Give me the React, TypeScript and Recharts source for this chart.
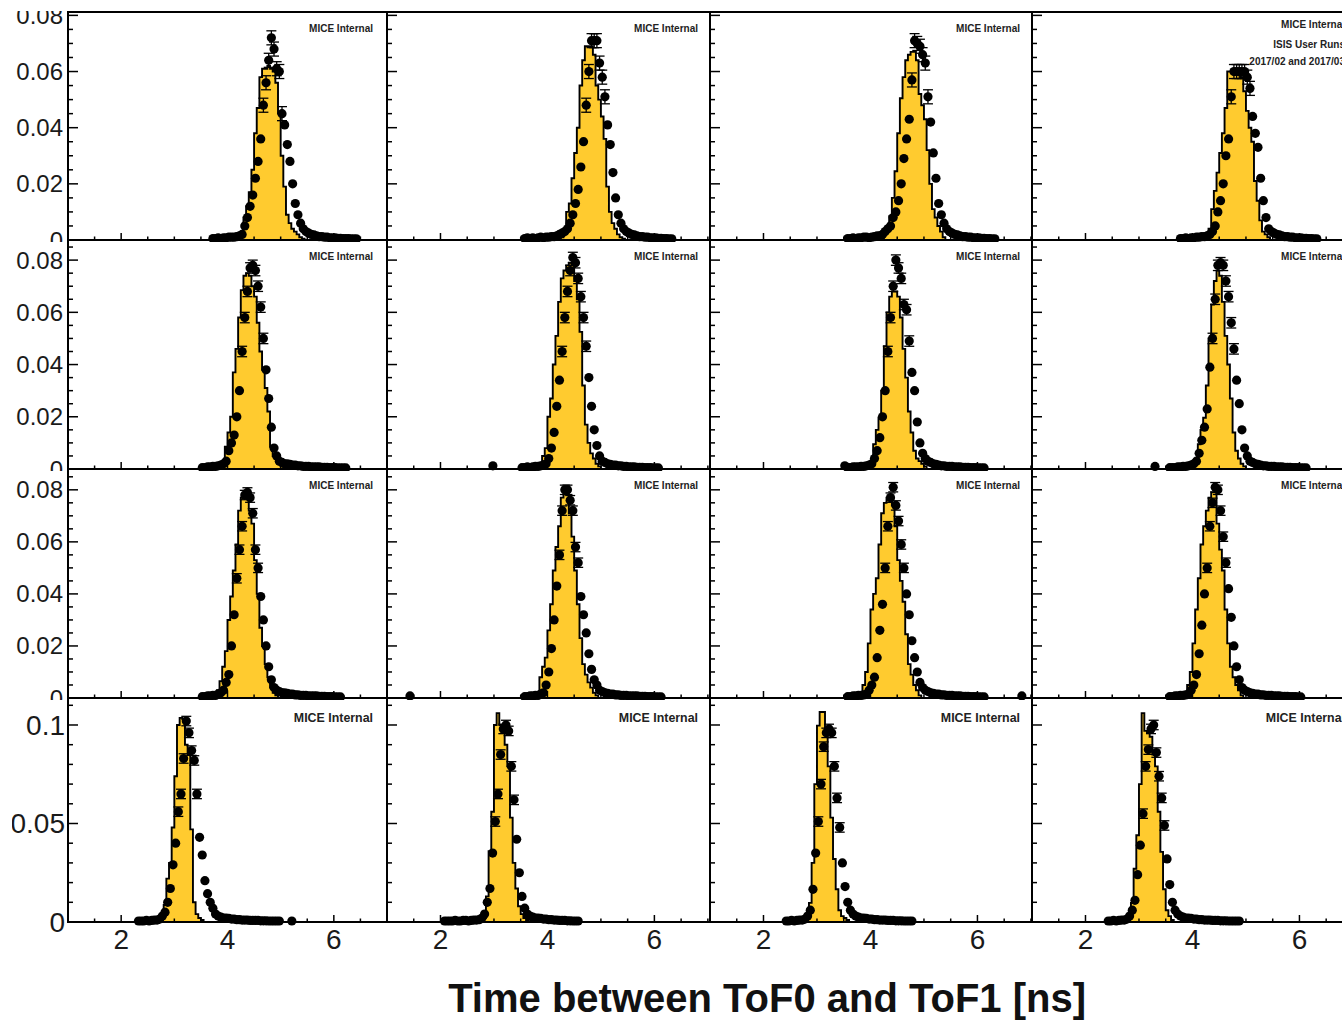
import React from 'react';
import { ComposedChart, Area, Scatter, XAxis, YAxis, ReferenceArea, ErrorBar } from 'recharts';

const FONT = "'Liberation Sans', Arial, Helvetica, sans-serif";
const BIN = 0.05;

// ---------------- Row 1 ----------------
const mc_r1c1 = [0.001,0.002,0.008,0.012,0.017,0.025,0.038,0.047,0.058,0.061, 0.061,0.062,0.061,0.060,0.056,0.045,0.030,0.019,0.009,0.006, 0.004,0.003,0.002,0.001,0.0005];
const data_r1c1 = [0.0005,0.0005,0.0008,0.0005,0.0008,0.0008,0.001,0.001,0.001,0.0012, 0.0015,0.002,0.005,0.008,0.012,0.016,0.022,0.028,0.036,0.048, 0.056,0.064,0.072,0.068,0.061,0.060,0.045,0.041,0.034,0.028, 0.020,0.013,0.009,0.006,0.004,0.003,0.0025,0.002,0.0018,0.0015, 0.0012,0.0012,0.001,0.001,0.0008,0.0008,0.0008,0.0006,0.0006,0.0005, 0.0005,0.0005,0.0004,0.0004,0.0004];

const mc_r1c2 = [0.001,0.004,0.010,0.013,0.022,0.031,0.040,0.055,0.064,0.069, 0.069,0.069,0.066,0.055,0.050,0.044,0.036,0.019,0.010,0.006, 0.004,0.002,0.001,0.0005];
const data_r1c2 = [0.0005,0.0008,0.0005,0.0008,0.0005,0.0008,0.001,0.0008,0.001,0.001, 0.0012,0.0012,0.0015,0.002,0.0025,0.003,0.004,0.006,0.009,0.013, 0.018,0.026,0.035,0.048,0.060,0.071,0.071,0.071,0.063,0.058, 0.051,0.041,0.034,0.024,0.015,0.009,0.006,0.004,0.003,0.0025, 0.002,0.0018,0.0015,0.0012,0.0012,0.001,0.001,0.0008,0.0008,0.0008, 0.0006,0.0006,0.0005,0.0005,0.0004,0.0004];

const mc_r1c3 = [0.002,0.005,0.0085,0.015,0.0245,0.038,0.0505,0.058,0.064,0.066, 0.067,0.067,0.064,0.052,0.048,0.043,0.032,0.020,0.011,0.008, 0.005,0.003,0.001];
const data_r1c3 = [0.0005,0.0005,0.0008,0.0005,0.0008,0.0008,0.001,0.001,0.0008,0.001, 0.0012,0.0015,0.0015,0.002,0.003,0.004,0.005,0.008,0.010,0.014, 0.020,0.029,0.036,0.043,0.057,0.071,0.070,0.069,0.066,0.063, 0.051,0.042,0.031,0.022,0.013,0.009,0.006,0.004,0.003,0.0025, 0.002,0.0018,0.0015,0.0012,0.0012,0.001,0.001,0.0008,0.0008,0.0008, 0.0006,0.0006,0.0005,0.0005,0.0004,0.0004];

const mc_r1c4 = [0.001,0.004,0.011,0.0175,0.024,0.031,0.038,0.047,0.060,0.060, 0.060,0.060,0.060,0.058,0.053,0.046,0.040,0.035,0.021,0.014, 0.007,0.003,0.002,0.001];
const data_r1c4 = [0.0005,0.0005,0.0008,0.0005,0.0008,0.0008,0.001,0.001,0.0012,0.0012, 0.0015,0.002,0.003,0.005,0.010,0.014,0.020,0.030,0.036,0.051, 0.060,0.060,0.060,0.060,0.060,0.058,0.054,0.044,0.038,0.033, 0.022,0.014,0.008,0.004,0.003,0.0025,0.002,0.0018,0.0015,0.0012, 0.0012,0.001,0.001,0.0008,0.0008,0.0008,0.0006,0.0006,0.0005,0.0005, 0.0004,0.0004];

// ---------------- Row 2 ----------------
const mc_r2c1 = [0.001,0.002,0.0085,0.014,0.020,0.037,0.046,0.058,0.0685,0.074, 0.075,0.074,0.070,0.066,0.056,0.045,0.038,0.031,0.022,0.0085, 0.005,0.004,0.002,0.001];
const data_r2c1 = [0.0005,0.0005,0.0008,0.0008,0.001,0.001,0.0012,0.0015,0.002,0.003, 0.007,0.010,0.013,0.020,0.030,0.045,0.058,0.068,0.077,0.078, 0.076,0.070,0.062,0.050,0.038,0.027,0.016,0.008,0.005,0.003, 0.0025,0.002,0.002,0.0018,0.0015,0.0015,0.0012,0.0012,0.001,0.001, 0.001,0.0008,0.0008,0.0008,0.0008,0.0006,0.0006,0.0006,0.0005,0.0005, 0.0005,0.0004,0.0004,0.0004,0.0004];

const mc_r2c2 = [0.002,0.005,0.008,0.020,0.027,0.040,0.051,0.064,0.073,0.076, 0.078,0.079,0.078,0.072,0.065,0.0525,0.032,0.017,0.010,0.006, 0.004,0.002,0.001];
const data_r2c2 = [0.0005,0.0005,0.0008,0.0005,0.0008,0.001,0.001,0.0012,0.0015,0.002, 0.004,0.008,0.014,0.024,0.034,0.045,0.058,0.068,0.076,0.081, 0.079,0.073,0.066,0.058,0.047,0.035,0.024,0.015,0.009,0.005, 0.003,0.0025,0.002,0.0018,0.0015,0.0015,0.0012,0.0012,0.001,0.001, 0.0008,0.0008,0.0008,0.0006,0.0006,0.0006,0.0005,0.0005,0.0005,0.0004, 0.0004,0.0004];
const extra_r2c2 = [[2.98, 0.0012]];

const mc_r2c3 = [0.001,0.003,0.0095,0.015,0.0196,0.030,0.047,0.060,0.066,0.068, 0.068,0.066,0.058,0.046,0.035,0.022,0.014,0.007,0.004,0.003, 0.002,0.001];
const data_r2c3 = [0.0005,0.0005,0.0008,0.0008,0.0008,0.001,0.001,0.0012,0.0015,0.002, 0.004,0.007,0.012,0.020,0.030,0.045,0.058,0.070,0.080,0.077, 0.073,0.063,0.061,0.049,0.037,0.030,0.018,0.010,0.006,0.004, 0.003,0.0025,0.002,0.0018,0.0015,0.0012,0.0012,0.001,0.001,0.001, 0.0008,0.0008,0.0008,0.0006,0.0006,0.0006,0.0005,0.0005,0.0005,0.0004, 0.0004,0.0004];
const extra_r2c3 = [[3.52, 0.0012]];

const mc_r2c4 = [0.001,0.003,0.0095,0.015,0.0196,0.032,0.050,0.063,0.072,0.076, 0.074,0.064,0.051,0.040,0.027,0.014,0.007,0.004,0.002,0.001];
const data_r2c4 = [0.0005,0.0005,0.0005,0.0008,0.0008,0.001,0.001,0.0012,0.0015,0.002, 0.003,0.006,0.011,0.016,0.023,0.039,0.050,0.065,0.078,0.079, 0.078,0.072,0.066,0.056,0.046,0.034,0.025,0.015,0.008,0.005, 0.003,0.0025,0.002,0.0018,0.0015,0.0012,0.0012,0.001,0.001,0.001, 0.0008,0.0008,0.0008,0.0006,0.0006,0.0006,0.0005,0.0005,0.0005,0.0004, 0.0004,0.0004];
const extra_r2c4 = [[3.30, 0.001]];

// ---------------- Row 3 ----------------
const mc_r3c1 = [0.001,0.003,0.0065,0.012,0.018,0.030,0.039,0.049,0.059,0.072, 0.077,0.078,0.077,0.072,0.067,0.053,0.040,0.027,0.020,0.013, 0.008,0.004,0.002,0.001];
const data_r3c1 = [0.0005,0.0005,0.0008,0.0008,0.001,0.001,0.0015,0.002,0.003,0.006, 0.009,0.020,0.032,0.046,0.057,0.066,0.078,0.079,0.077,0.071, 0.057,0.050,0.039,0.030,0.020,0.012,0.007,0.004,0.003,0.0025, 0.002,0.002,0.0018,0.0015,0.0015,0.0012,0.0012,0.001,0.001,0.001, 0.0008,0.0008,0.0008,0.0008,0.0006,0.0006,0.0006,0.0005,0.0005,0.0005, 0.0004,0.0004,0.0004];

const mc_r3c2 = [0.002,0.008,0.012,0.0155,0.026,0.036,0.049,0.058,0.066,0.077, 0.080,0.080,0.071,0.062,0.049,0.036,0.023,0.013,0.009,0.006, 0.004,0.002,0.001];
const data_r3c2 = [0.0005,0.0005,0.0008,0.0008,0.001,0.001,0.0015,0.002,0.005,0.010, 0.019,0.030,0.043,0.055,0.072,0.080,0.080,0.076,0.072,0.058, 0.052,0.039,0.032,0.025,0.017,0.011,0.007,0.005,0.003,0.0025, 0.002,0.0018,0.0015,0.0015,0.0012,0.0012,0.001,0.001,0.001,0.0008, 0.0008,0.0008,0.0008,0.0006,0.0006,0.0006,0.0005,0.0005,0.0005,0.0004, 0.0004,0.0004];
const extra_r3c2 = [[1.43, 0.0008]];

const mc_r3c3 = [0.002,0.005,0.010,0.021,0.034,0.040,0.046,0.059,0.071,0.075, 0.077,0.077,0.074,0.066,0.053,0.045,0.037,0.0245,0.013,0.009, 0.005,0.003,0.001];
const data_r3c3 = [0.0005,0.0005,0.0008,0.0008,0.001,0.001,0.0012,0.0015,0.003,0.005, 0.008,0.0155,0.026,0.036,0.050,0.066,0.077,0.081,0.074,0.068, 0.059,0.050,0.040,0.032,0.022,0.0155,0.010,0.006,0.004,0.003, 0.0025,0.002,0.0018,0.0015,0.0015,0.0012,0.0012,0.001,0.001,0.001, 0.0008,0.0008,0.0008,0.0006,0.0006,0.0006,0.0005,0.0005,0.0005,0.0004, 0.0004,0.0004];
const extra_r3c3 = [[6.83, 0.0008]];

const mc_r3c4 = [0.002,0.005,0.010,0.021,0.034,0.046,0.059,0.066,0.072,0.077, 0.079,0.079,0.067,0.057,0.049,0.034,0.021,0.012,0.008,0.005, 0.003,0.001];
const data_r3c4 = [0.0005,0.0005,0.0008,0.0008,0.001,0.001,0.0012,0.0015,0.003,0.005, 0.009,0.017,0.028,0.040,0.050,0.066,0.075,0.081,0.080,0.072, 0.062,0.052,0.042,0.031,0.020,0.012,0.007,0.004,0.003,0.0025, 0.002,0.0018,0.0015,0.0015,0.0012,0.0012,0.001,0.001,0.001,0.0008, 0.0008,0.0008,0.0006,0.0006,0.0006,0.0005,0.0005,0.0005,0.0004,0.0004];

// ---------------- Row 4 ----------------
const mc_r4c1 = [0.001,0.002,0.0086,0.022,0.030,0.048,0.074,0.100,0.1036,0.103, 0.090,0.085,0.047,0.010,0.004,0.002,0.001];
const data_r4c1 = [0.0005,0.0005,0.0005,0.0008,0.0005,0.0008,0.001,0.001,0.0015,0.003, 0.005,0.010,0.017,0.029,0.040,0.056,0.065,0.083,0.102,0.096, 0.087,0.082,0.065,0.043,0.034,0.021,0.0144,0.010,0.007,0.004, 0.003,0.0025,0.002,0.002,0.0018,0.0015,0.0015,0.0012,0.0012,0.001, 0.001,0.001,0.0008,0.0008,0.0008,0.0008,0.0006,0.0006,0.0006,0.0005, 0.0005,0.0005,0.0005,0.0005];
const extra_r4c1 = [[5.21, 0.0005]];

const mc_r4c2 = [0.001,0.002,0.013,0.036,0.056,0.100,0.106,0.100,0.096,0.090, 0.079,0.053,0.030,0.017,0.008,0.004,0.002,0.001];
const data_r4c2 = [0.0005,0.0005,0.0005,0.0005,0.0008,0.0005,0.0005,0.0008,0.0008,0.0005, 0.0008,0.001,0.001,0.0012,0.002,0.004,0.010,0.017,0.035,0.051, 0.065,0.085,0.098,0.100,0.097,0.079,0.062,0.042,0.025,0.013, 0.007,0.004,0.003,0.0025,0.002,0.002,0.0018,0.0015,0.0015,0.0012, 0.0012,0.001,0.001,0.0008,0.0008,0.0008,0.0006,0.0006,0.0005,0.0005, 0.0005];

const mc_r4c3 = [0.001,0.003,0.0097,0.030,0.070,0.0997,0.1066,0.1066,0.096,0.079, 0.053,0.032,0.0166,0.006,0.003,0.002,0.001];
const data_r4c3 = [0.0005,0.0005,0.0008,0.0005,0.0008,0.001,0.001,0.0015,0.003,0.006, 0.0166,0.035,0.051,0.070,0.089,0.096,0.098,0.096,0.079,0.063, 0.048,0.030,0.018,0.010,0.006,0.004,0.003,0.0025,0.002,0.002, 0.0018,0.0015,0.0015,0.0012,0.0012,0.001,0.001,0.001,0.0008,0.0008, 0.0008,0.0006,0.0006,0.0006,0.0005,0.0005,0.0005,0.0005];

const mc_r4c4 = [0.001,0.003,0.0097,0.027,0.044,0.070,0.106,0.097,0.096,0.094, 0.085,0.079,0.056,0.0356,0.0166,0.006,0.003,0.001];
const data_r4c4 = [0.0005,0.0005,0.0008,0.0005,0.0008,0.001,0.001,0.0015,0.003,0.006, 0.011,0.024,0.039,0.055,0.079,0.0875,0.098,0.100,0.086,0.074, 0.063,0.049,0.032,0.019,0.010,0.006,0.004,0.003,0.0025,0.002, 0.002,0.0018,0.0015,0.0015,0.0012,0.0012,0.001,0.001,0.001,0.0008, 0.0008,0.0008,0.0006,0.0006,0.0006,0.0005,0.0005,0.0005,0.0005,0.0005];

// first bin lower edges (ns)
const mcStarts = [
  [4.20, 4.25, 4.25, 4.25],
  [3.85, 3.85, 3.95, 4.00],
  [3.75, 3.80, 3.80, 3.85],
  [2.70, 2.75, 2.75, 2.75],
];
const dataStarts = [
  [3.70, 3.55, 3.55, 3.75],
  [3.50, 3.50, 3.55, 3.55],
  [3.50, 3.55, 3.55, 3.55],
  [2.30, 2.05, 2.40, 2.40],
];
// typical data error near the peak, per row
const errByRow = [0.0025, 0.002, 0.0018, 0.0024];

// axis tick values
const X_TICKS = [1.5, 2, 2.5, 3, 3.5, 4, 4.5, 5, 5.5, 6, 6.5, 7];
const Y_TICKS_R1 = [0, 0.005, 0.01, 0.015, 0.02, 0.025, 0.03, 0.035, 0.04, 0.045, 0.05, 0.055, 0.06, 0.065, 0.07, 0.075, 0.08];
const Y_TICKS_R23 = [0, 0.005, 0.01, 0.015, 0.02, 0.025, 0.03, 0.035, 0.04, 0.045, 0.05, 0.055, 0.06, 0.065, 0.07, 0.075, 0.08, 0.085];
const Y_TICKS_R4 = [0, 0.01, 0.02, 0.03, 0.04, 0.05, 0.06, 0.07, 0.08, 0.09, 0.1, 0.11];
const Y_TICKS = [Y_TICKS_R1, Y_TICKS_R23, Y_TICKS_R23, Y_TICKS_R4];
const Y_MAJOR = [0.02, 0.02, 0.02, 0.05];
const X_MAX = [7.0, 7.04, 7.02, 7.02];
const Y_MAX = [0.0812, 0.0877, 0.088, 0.1137];

// layout (px)
const COL_LEFT = [68, 387, 710, 1032];
const COL_W = [319, 323, 322, 322];
const ROW_TOP = [12, 240, 469, 698];
const ROW_H = [228, 229, 229, 224];
const LABEL_RIGHT_PAD = [14, 12, 12, 9];

const MC = [
  [mc_r1c1, mc_r1c2, mc_r1c3, mc_r1c4],
  [mc_r2c1, mc_r2c2, mc_r2c3, mc_r2c4],
  [mc_r3c1, mc_r3c2, mc_r3c3, mc_r3c4],
  [mc_r4c1, mc_r4c2, mc_r4c3, mc_r4c4],
];
const DATA = [
  [data_r1c1, data_r1c2, data_r1c3, data_r1c4],
  [data_r2c1, data_r2c2, data_r2c3, data_r2c4],
  [data_r3c1, data_r3c2, data_r3c3, data_r3c4],
  [data_r4c1, data_r4c2, data_r4c3, data_r4c4],
];
const EXTRA = [
  [[], [], [], []],
  [[], extra_r2c2, extra_r2c3, extra_r2c4],
  [[], extra_r3c2, extra_r3c3, []],
  [extra_r4c1, [], [], []],
];

function buildHist(start: number, vals: number[]) {
  const rows: { x: number; y: number }[] = [{ x: start, y: 0 }];
  vals.forEach((v, i) => rows.push({ x: start + i * BIN, y: v }));
  rows.push({ x: start + vals.length * BIN, y: 0 });
  return rows;
}

function buildPoints(start: number, vals: number[], extra: number[][], err: number) {
  const pts = vals.map((v, i) => ({ x: start + i * BIN + BIN / 2, y: v, e: v >= 0.045 ? err : 0 }));
  extra.forEach(([x, y]) => pts.push({ x, y, e: 0 }));
  return pts;
}

const fmtY = (v: number) => (v === 0 ? '0' : String(+v.toFixed(2)));

const isMajor = (v: number, step: number) => Math.abs(v / step - Math.round(v / step)) < 1e-6;

const renderDot = (props: any) => <circle cx={props.cx} cy={props.cy} r={4.6} fill="#000" />;

function Panel({ r, c }: { r: number; c: number }) {
  const plotL = COL_LEFT[c];
  const plotT = ROW_TOP[r];
  const plotW = COL_W[c];
  const plotH = ROW_H[r];
  const chartL = c === 0 ? (r === 3 ? 12 : 0) : plotL - 2;
  const chartT = r === 0 ? 11 : plotT - 2;
  const chartR = plotL + plotW + 2;
  const chartB = r === 3 ? 975 : plotT + plotH + 2;

  const hist = buildHist(mcStarts[r][c], MC[r][c]);
  const pts = buildPoints(dataStarts[r][c], DATA[r][c], EXTRA[r][c], errByRow[r]);

  const yTick = (p: any) => {
    const v = p.payload.value;
    const major = isMajor(v, Y_MAJOR[r]);
    const len = major ? 10 : 5;
    return (
      <g>
        <line x1={p.x} y1={p.y} x2={p.x + len} y2={p.y} stroke="#000" strokeWidth={1.5} />
        {c === 0 && major ? (
          <text
            x={r === 3 ? p.x - 3 : p.x - 5}
            y={p.y + (r === 3 ? 10 : 8.5)}
            textAnchor="end"
            fontSize={r === 3 ? 28 : 24}
            fontFamily={FONT}
            fill="#1a1a1a"
          >
            {fmtY(v)}
          </text>
        ) : null}
      </g>
    );
  };

  const xTick = (p: any) => {
    const v = p.payload.value;
    const major = isMajor(v, 2);
    const len = major ? 7 : 3.5;
    return (
      <g>
        <line x1={p.x} y1={p.y} x2={p.x} y2={p.y - len} stroke="#000" strokeWidth={1.5} />
        {r === 3 && major ? (
          <text x={p.x} y={p.y + 27} textAnchor="middle" fontSize={28} fontFamily={FONT} fill="#1a1a1a">
            {String(v)}
          </text>
        ) : null}
      </g>
    );
  };

  const frameLabel = (p: any) => {
    const vb = p.viewBox || {};
    const right = vb.x + vb.width - LABEL_RIGHT_PAD[c];
    const common = { textAnchor: 'end' as const, fontFamily: FONT, fontWeight: 'bold' as const, fill: '#222' };
    if (r === 3) {
      return (
        <text x={right} y={vb.y + 23.5} fontSize={12.4} {...common}>
          MICE Internal
        </text>
      );
    }
    if (r === 0 && c === 3) {
      return (
        <g>
          <text x={right} y={vb.y + 15.5} fontSize={10} {...common}>MICE Internal</text>
          <text x={right} y={vb.y + 35.5} fontSize={10} {...common}>ISIS User Runs</text>
          <text x={right} y={vb.y + 52.5} fontSize={10} {...common}>2017/02 and 2017/03</text>
        </g>
      );
    }
    return (
      <text x={right} y={vb.y + 19.5} fontSize={10} {...common}>
        MICE Internal
      </text>
    );
  };

  return (
    <div style={{ position: 'absolute', left: chartL, top: chartT }}>
      <ComposedChart
        width={chartR - chartL}
        height={chartB - chartT}
        data={hist}
        margin={{ top: plotT - chartT, right: 2, bottom: 0, left: 0 }}
      >
        <XAxis
          type="number"
          dataKey="x"
          domain={[1, X_MAX[c]]}
          ticks={X_TICKS}
          interval={0}
          tickSize={0}
          tickMargin={0}
          height={chartB - plotT - plotH}
          axisLine={{ stroke: '#000', strokeWidth: 2 }}
          tickLine={false}
          tick={xTick}
        />
        <YAxis
          type="number"
          dataKey="y"
          domain={[0, Y_MAX[r]]}
          ticks={Y_TICKS[r]}
          interval={0}
          tickSize={0}
          tickMargin={0}
          width={plotL - chartL}
          axisLine={{ stroke: '#000', strokeWidth: 2 }}
          tickLine={false}
          tick={yTick}
        />
        <Area
          type="stepAfter"
          dataKey="y"
          stroke="#000"
          strokeWidth={1.9}
          fill="#FFCB2F"
          fillOpacity={1}
          dot={false}
          activeDot={false}
          isAnimationActive={false}
        />
        <Scatter data={pts} dataKey="y" shape={renderDot} isAnimationActive={false}>
          <ErrorBar dataKey="e" direction="y" width={5} stroke="#000" strokeWidth={1.3} />
        </Scatter>
        <ReferenceArea
          x1={1}
          x2={X_MAX[c]}
          y1={0}
          y2={Y_MAX[r]}
          fill="none"
          fillOpacity={0}
          stroke="#000"
          strokeWidth={2}
          label={frameLabel}
        />
      </ComposedChart>
    </div>
  );
}

export default function App() {
  const cells: JSX.Element[] = [];
  for (let r = 0; r < 4; r++) {
    for (let c = 0; c < 4; c++) {
      cells.push(<Panel key={`${r}-${c}`} r={r} c={c} />);
    }
  }
  return (
    <div
      style={{
        position: 'absolute',
        left: 0,
        top: 0,
        width: 1342,
        height: 1020,
        overflow: 'hidden',
        background: '#fff',
      }}
    >
      {cells}
      <svg width={1342} height={60} style={{ position: 'absolute', left: 0, top: 965 }}>
        <text x={1086} y={47} textAnchor="end" fontSize={40} fontWeight="bold" fontFamily={FONT} fill="#111">
          Time between ToF0 and ToF1 [ns]
        </text>
      </svg>
    </div>
  );
}
